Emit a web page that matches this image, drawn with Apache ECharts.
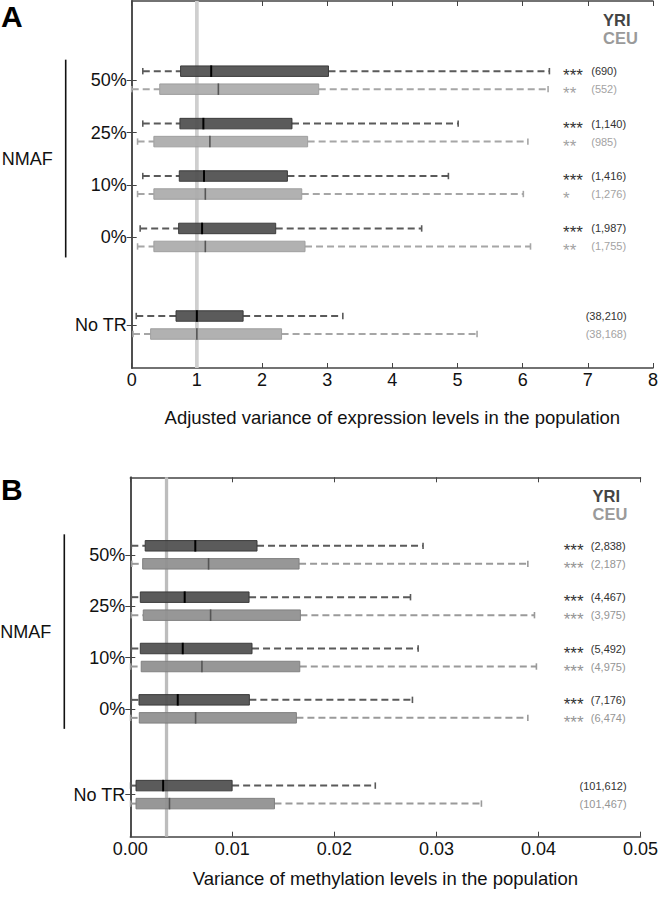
<!DOCTYPE html>
<html><head><meta charset="utf-8">
<script src="https://cdn.jsdelivr.net/npm/echarts@6/dist/echarts.min.js"></script>
<style>html,body{margin:0;padding:0;background:#fff}#c{width:661px;height:899px}</style>
</head><body><div id="c"></div>
<script>
// ---------------- data ----------------
const categories = ['50%', '25%', '10%', '0%', 'No TR'];
const exprTicks = [0, 1, 2, 3, 4, 5, 6, 7, 8];
const methTicks = [0, 0.01, 0.02, 0.03, 0.04, 0.05];
// each row: [lower whisker, Q1, median, Q3, upper whisker]
const exprYRI = [
  [0.17, 0.75, 1.22, 3.02, 6.41],
  [0.17, 0.74, 1.10, 2.46, 5.01],
  [0.17, 0.73, 1.11, 2.39, 4.86],
  [0.13, 0.72, 1.08, 2.21, 4.45],
  [0.07, 0.68, 1.00, 1.71, 3.24]
];
const exprCEU = [
  [0.00, 0.43, 1.33, 2.87, 6.39],
  [0.09, 0.34, 1.20, 2.70, 6.08],
  [0.09, 0.34, 1.13, 2.61, 6.01],
  [0.09, 0.34, 1.13, 2.66, 6.12],
  [0.02, 0.29, 1.00, 2.30, 5.30]
];
const methYRI = [
  [0.0001, 0.00146, 0.00637, 0.01242, 0.02869],
  [0.0001, 0.00098, 0.00533, 0.01164, 0.02746],
  [0.0001, 0.00098, 0.00514, 0.01193, 0.02821],
  [0.0001, 0.00085, 0.00465, 0.01167, 0.02765],
  [0.00003, 0.00056, 0.00322, 0.00998, 0.02401]
];
const methCEU = [
  [0.00014, 0.00121, 0.00767, 0.01654, 0.03896],
  [0.0001, 0.00127, 0.00787, 0.01667, 0.03961],
  [0.00003, 0.00107, 0.00702, 0.01661, 0.03980],
  [0.00003, 0.00088, 0.00640, 0.01628, 0.03896],
  [0.00003, 0.00056, 0.00384, 0.01413, 0.03441]
];
const exprRef = 1.0;
const methRef = 0.00355;
const exprStarsYRI = ['***', '***', '***', '***', ''];
const exprStarsCEU = ['**', '**', '*', '**', ''];
const methStarsYRI = ['***', '***', '***', '***', ''];
const methStarsCEU = ['***', '***', '***', '***', ''];
const exprNYRI = ['(690)', '(1,140)', '(1,416)', '(1,987)', '(38,210)'];
const exprNCEU = ['(552)', '(985)', '(1,276)', '(1,755)', '(38,168)'];
const methNYRI = ['(2,838)', '(4,467)', '(5,492)', '(7,176)', '(101,612)'];
const methNCEU = ['(2,187)', '(3,975)', '(4,975)', '(6,474)', '(101,467)'];
const groupLabel = 'NMAF';
const popLabels = ['YRI', 'CEU'];
const exprTitle = 'Adjusted variance of expression levels in the population';
const methTitle = 'Variance of methylation levels in the population';
const panelLetters = ['A', 'B'];

// ---------------- layout ----------------
const FONT = '"Liberation Sans", Arial, Helvetica, sans-serif';
const catPos = [5.67, 4.67, 3.67, 2.67, 1.0];
const Y_MIN = 0.18, Y_MAX = 7.18;

const panels = [
  {
    grid: { left: 131.7, top: 1, width: 524.8, height: 367 },
    ticks: exprTicks, fmt: v => String(Math.round(v)),
    yri: exprYRI, ceu: exprCEU, ref: exprRef,
    starsY: exprStarsYRI, starsC: exprStarsCEU, nY: exprNYRI, nC: exprNCEU,
    title: exprTitle, nameGap: 40,
    ceuFill: '#ababab', ceuStroke: '#9c9c9c', ceuWhisk: '#a6a6a6', ceuText: '#a3a3a3',
    refColor: '#cfcfcf', refW: 3.7,
    starX: 6.62, nX: 7.052, nRight: 7.596,
    legendX: 603, legendY: [19.5, 37.5], letterY: 16
  },
  {
    grid: { left: 130.3, top: 477.3, width: 513, height: 359.4 },
    ticks: methTicks, fmt: v => v.toFixed(2),
    yri: methYRI, ceu: methCEU, ref: methRef,
    starsY: methStarsYRI, starsC: methStarsCEU, nY: methNYRI, nC: methNCEU,
    title: methTitle, nameGap: 32,
    ceuFill: '#8f8f8f', ceuStroke: '#7d7d7d', ceuWhisk: '#9a9a9a', ceuText: '#959595',
    refColor: '#bdbdbd', refW: 3.3,
    starX: 0.04247, nX: 0.04513, nRight: 0.04864,
    legendX: 592.5, legendY: [495.5, 513.5], letterY: 489.5
  }
];

function boxRenderer(offset, st) {
  return function (params, api) {
    const pos = api.value(0);
    const lo = api.coord([api.value(1), pos]);
    const q1 = api.coord([api.value(2), pos]);
    const md = api.coord([api.value(3), pos]);
    const q3 = api.coord([api.value(4), pos]);
    const hi = api.coord([api.value(5), pos]);
    const y = lo[1] + offset;
    const h = 10.5;
    const dash = { stroke: st.wc, lineWidth: 2, lineDash: [7, 4] };
    return {
      type: 'group', children: [
        { type: 'line', shape: { x1: lo[0], y1: y, x2: q1[0], y2: y }, style: dash },
        { type: 'line', shape: { x1: q3[0], y1: y, x2: hi[0], y2: y }, style: dash },
        { type: 'line', shape: { x1: lo[0], y1: y - 3.2, x2: lo[0], y2: y + 3.2 }, style: { stroke: st.wc, lineWidth: 1.6 } },
        { type: 'line', shape: { x1: hi[0], y1: y - 3.2, x2: hi[0], y2: y + 3.2 }, style: { stroke: st.wc, lineWidth: 1.6 } },
        { type: 'rect', shape: { x: q1[0], y: y - h / 2, width: q3[0] - q1[0], height: h }, style: { fill: st.fill, stroke: st.stroke, lineWidth: 1, opacity: 0.93 } },
        { type: 'line', shape: { x1: md[0], y1: y - h / 2 - 0.5, x2: md[0], y2: y + h / 2 + 0.5 }, style: { stroke: st.mc, lineWidth: st.mw } }
      ]
    };
  };
}

const grids = [], xAxes = [], yAxes = [], series = [], graphics = [];
panels.forEach((p, gi) => {
  grids.push(Object.assign({ containLabel: false }, p.grid));
  const tmin = p.ticks[0], tmax = p.ticks[p.ticks.length - 1], tint = p.ticks[1] - p.ticks[0];
  const axLine = { show: true, lineStyle: { color: '#444', width: 1.5 } };
  xAxes.push({
    type: 'value', gridIndex: gi, position: 'bottom', min: tmin, max: tmax, interval: tint,
    axisLine: axLine, axisTick: { show: true, inside: true, length: 5, lineStyle: { color: '#444', width: 1 } },
    axisLabel: { formatter: p.fmt, fontSize: 18, color: '#111', fontFamily: FONT, margin: 3, showMaxLabel: true, showMinLabel: true },
    splitLine: { show: false },
    name: p.title, nameLocation: 'middle', nameGap: p.nameGap,
    nameTextStyle: { fontSize: 18.5, color: '#111', fontFamily: FONT }
  });
  xAxes.push({
    type: 'value', gridIndex: gi, position: 'top', min: tmin, max: tmax, interval: tint,
    axisLine: axLine, axisTick: { show: true, inside: true, length: 5, lineStyle: { color: '#444', width: 1 } },
    axisLabel: { show: false }, splitLine: { show: false }
  });
  yAxes.push({
    type: 'value', gridIndex: gi, position: 'left', min: Y_MIN, max: Y_MAX,
    axisLine: axLine,
    axisTick: { show: true, inside: true, length: 5, customValues: catPos, lineStyle: { color: '#444', width: 1 } },
    axisLabel: {
      customValues: catPos, fontSize: 18, color: '#111', fontFamily: FONT, margin: 5,
      formatter: v => { const i = catPos.findIndex(c => Math.abs(c - v) < 1e-6); return i >= 0 ? categories[i] : ''; }
    },
    splitLine: { show: false }
  });
  yAxes.push({
    type: 'value', gridIndex: gi, position: 'right', min: Y_MIN, max: Y_MAX,
    axisLine: axLine,
    axisTick: { show: true, inside: true, length: 5, customValues: catPos, lineStyle: { color: '#444', width: 1 } },
    axisLabel: { show: false }, splitLine: { show: false }
  });
  const xi = gi * 2, yi = gi * 2;
  // reference line
  series.push({
    type: 'custom', xAxisIndex: xi, yAxisIndex: yi, z: 1, silent: true,
    data: [[p.ref]],
    renderItem: (params, api) => {
      const a = api.coord([api.value(0), Y_MAX]);
      const b = api.coord([api.value(0), Y_MIN]);
      return { type: 'line', shape: { x1: a[0], y1: a[1], x2: b[0], y2: b[1] }, style: { stroke: p.refColor, lineWidth: p.refW } };
    }
  });
  const mk = arr => arr.map((r, i) => [catPos[i]].concat(r));
  series.push({
    name: popLabels[0], type: 'custom', xAxisIndex: xi, yAxisIndex: yi, z: 3, clip: false,
    data: mk(p.yri), encode: { x: [1, 2, 3, 4, 5], y: 0 },
    renderItem: boxRenderer(-9, { fill: '#4f4f4f', stroke: '#363636', wc: '#5a5a5a', mc: '#000', mw: 2 })
  });
  series.push({
    name: popLabels[1], type: 'custom', xAxisIndex: xi, yAxisIndex: yi, z: 3, clip: false,
    data: mk(p.ceu), encode: { x: [1, 2, 3, 4, 5], y: 0 },
    renderItem: boxRenderer(9, { fill: p.ceuFill, stroke: p.ceuStroke, wc: p.ceuWhisk, mc: '#555', mw: 1.6 })
  });
  // annotations (stars + counts)
  series.push({
    type: 'custom', xAxisIndex: xi, yAxisIndex: yi, z: 4, clip: false, silent: true,
    data: catPos.map((c, i) => [c, i]),
    renderItem: (params, api) => {
      const pos = api.value(0), i = api.value(1);
      const s = api.coord([p.starX, pos]);
      const n = api.coord([p.nX, pos]);
      const nr = api.coord([p.nRight, pos]);
      const last = i === categories.length - 1;
      const ch = [];
      [[p.starsY[i], -9, '#333'], [p.starsC[i], 9, p.ceuText]].forEach(([t, off, col]) => {
        if (t) ch.push({ type: 'text', x: s[0], y: s[1] + off + 4.5, style: { text: t, font: '17px ' + FONT, fill: col, textAlign: 'left', textVerticalAlign: 'middle' } });
      });
      [[p.nY[i], -9, '#333'], [p.nC[i], 9, p.ceuText]].forEach(([t, off, col]) => {
        ch.push({ type: 'text', x: last ? nr[0] : n[0], y: n[1] + off, style: { text: t, font: '11px ' + FONT, fill: col, textAlign: last ? 'right' : 'left', textVerticalAlign: 'middle' } });
      });
      return { type: 'group', children: ch };
    }
  });
  // NMAF bracket and label
  series.push({
    type: 'custom', xAxisIndex: xi, yAxisIndex: yi, z: 4, clip: false, silent: true,
    data: [[catPos[0], catPos[3], catPos[1], catPos[2]]],
    renderItem: (params, api) => {
      const top = api.coord([p.ticks[0], api.value(0)]);
      const bot = api.coord([p.ticks[0], api.value(1)]);
      const m1 = api.coord([p.ticks[0], api.value(2)]);
      const m2 = api.coord([p.ticks[0], api.value(3)]);
      const bx = top[0] - 66;
      return {
        type: 'group', children: [
          { type: 'line', shape: { x1: bx, y1: top[1] - 20.5, x2: bx, y2: bot[1] + 20 }, style: { stroke: '#111', lineWidth: 1.6 } },
          { type: 'text', x: top[0] - 130, y: (m1[1] + m2[1]) / 2, style: { text: groupLabel, font: '18px ' + FONT, fill: '#111', textAlign: 'left', textVerticalAlign: 'middle' } }
        ]
      };
    }
  });
  // legend + panel letter
  graphics.push({ type: 'text', x: p.legendX, y: p.legendY[0], style: { text: popLabels[0], font: 'bold 16.5px ' + FONT, fill: '#444', textVerticalAlign: 'middle' } });
  graphics.push({ type: 'text', x: p.legendX, y: p.legendY[1], style: { text: popLabels[1], font: 'bold 16.5px ' + FONT, fill: '#9a9a9a', textVerticalAlign: 'middle' } });
  graphics.push({ type: 'text', x: 1, y: p.letterY, style: { text: panelLetters[gi], font: 'bold 30px ' + FONT, fill: '#000', textVerticalAlign: 'middle' } });
});

const chart = echarts.init(document.getElementById('c'), null, { renderer: 'svg', width: 661, height: 899 });
chart.setOption({
  animation: false,
  backgroundColor: '#fff',
  textStyle: { fontFamily: FONT },
  grid: grids, xAxis: xAxes, yAxis: yAxes, series: series, graphic: graphics
});
</script></body></html>
